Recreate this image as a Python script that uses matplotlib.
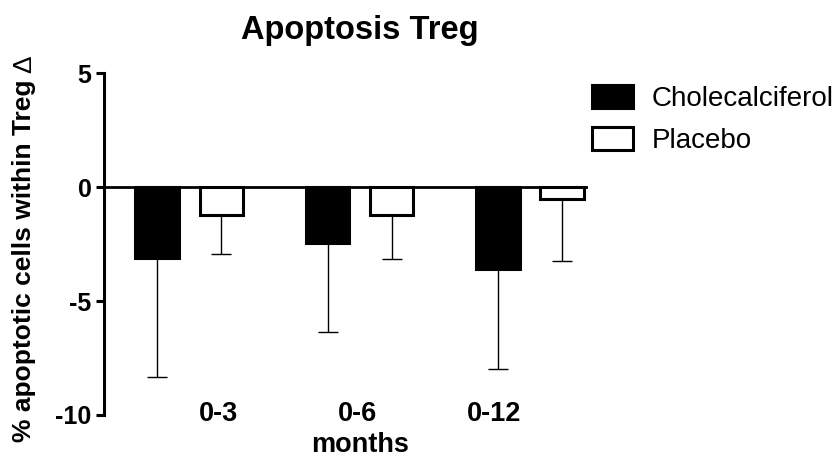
import numpy as np
import matplotlib
matplotlib.use("Agg")
import matplotlib.pyplot as plt

plt.rcParams['font.family'] = ['Liberation Sans', 'DejaVu Sans']

# change in % apoptotic Treg cells (mean, lower SD)
periods = ['0-3', '0-6', '0-12']
chol_mean = [-3.1, -2.47, -3.6]
chol_err = [5.23, 3.9, 4.37]
plac_mean = [-1.23, -1.2, -0.5]
plac_err = [1.69, 1.96, 2.73]
yticks = [-10, -5, 0, 5]

x = np.arange(len(periods))
off = 0.188
bw = 0.255

fig = plt.figure(figsize=(8.4, 4.59), dpi=100)
ax = fig.add_axes([104 / 840, 44 / 459, 484 / 840, 341.7 / 459])

# error bars pointing away from zero only
no_up = np.zeros(len(periods))
ax.errorbar(x - off, chol_mean, yerr=[chol_err, no_up], fmt='none', ecolor='black',
            elinewidth=1.0, capsize=7.5, capthick=1.0, zorder=2)
ax.errorbar(x + off, plac_mean, yerr=[plac_err, no_up], fmt='none', ecolor='black',
            elinewidth=1.0, capsize=7.5, capthick=1.0, zorder=2)

ax.bar(x - off, chol_mean, width=bw, color='black', edgecolor='black', linewidth=2.2,
       label='Cholecalciferol', zorder=3)
ax.bar(x + off, plac_mean, width=bw, color='white', edgecolor='black', linewidth=2.2,
       label='Placebo', zorder=3)

ax.axhline(0, color='black', linewidth=2.0, zorder=4)

ax.set_xlim(-0.5, 2.34)
ax.set_ylim(-10, 5)

for s in ['top', 'right', 'bottom']:
    ax.spines[s].set_visible(False)
ax.spines['left'].set_linewidth(2.2)

ax.set_yticks(yticks)
ax.set_yticklabels([str(v) for v in yticks], fontsize=18, fontweight='bold')
ax.tick_params(axis='y', length=6, width=2.2, pad=3)

# category labels sit level with the bottom of the y axis
ax.set_xticks([0.17, 0.99, 1.79])
ax.set_xticklabels(periods, fontsize=19.5, fontweight='bold')
ax.tick_params(axis='x', length=0, pad=-10)

ax.set_xlabel('months', fontsize=19.5, fontweight='bold')
ax.xaxis.set_label_coords(0.529, -0.05)

ax.set_ylabel('% apoptotic cells within Treg', fontsize=19, fontweight='bold')
ax.yaxis.set_label_coords(-0.14, 0.45)
ax.annotate('\u0394', xy=(0.5, 1), xycoords=ax.yaxis.label, xytext=(0, 5),
            textcoords='offset points', rotation=90, ha='center', va='bottom',
            fontsize=19)

ax.set_title('Apoptosis Treg', fontsize=23.5, fontweight='bold', x=0.529, pad=25)

ax.legend(loc='upper left', bbox_to_anchor=(592 / 840, 1 - 85 / 459),
          bbox_transform=fig.transFigure, frameon=False, fontsize=20,
          handlelength=1.47, handleheight=0.9, handletextpad=0.68,
          labelspacing=0.55, borderpad=0, borderaxespad=0)

fig.savefig('out.png', dpi=100)
